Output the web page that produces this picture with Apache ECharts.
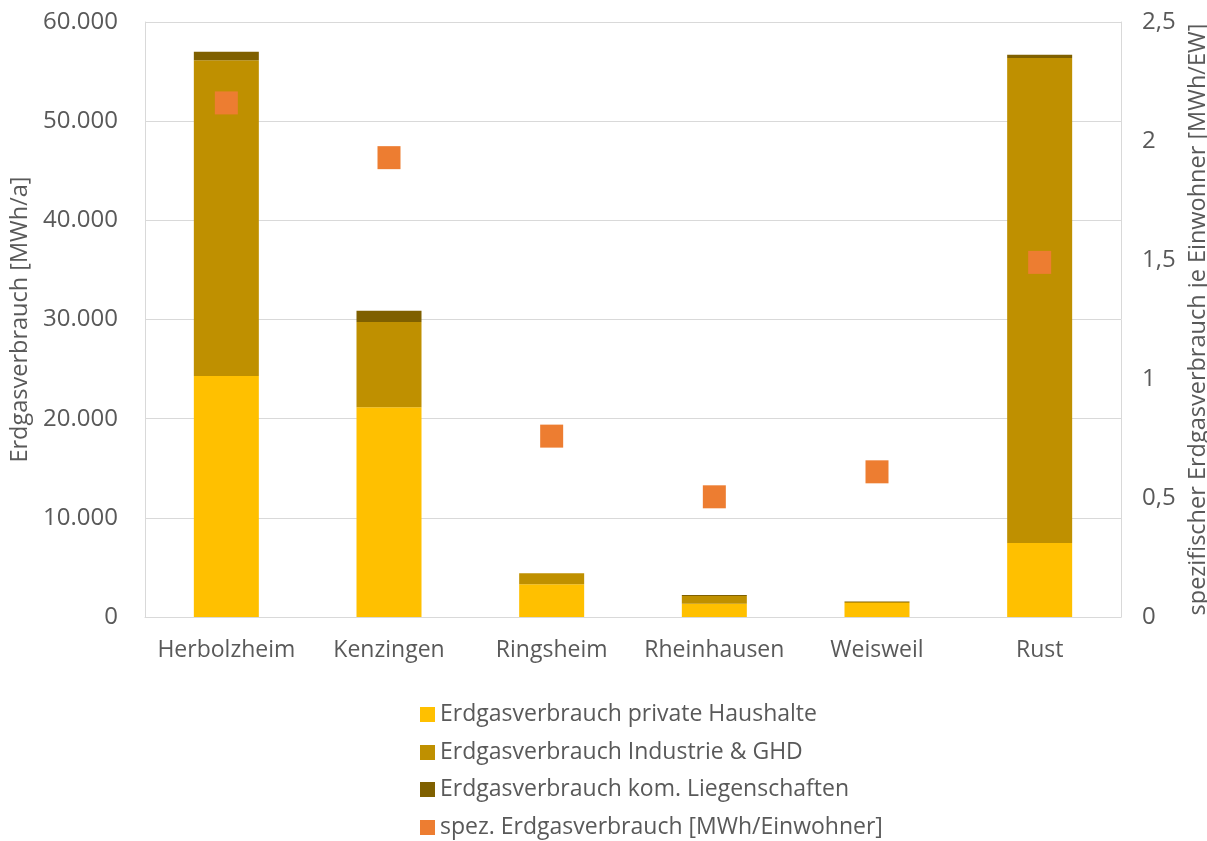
<!DOCTYPE html>
<html><head><meta charset="utf-8">
<script src="https://cdn.jsdelivr.net/npm/echarts@6/dist/echarts.min.js"></script>
<style>html,body{margin:0;padding:0;background:#fff}#c{width:1207px;height:841px}</style>
</head><body><div id="c"></div>
<script>
const categories = ['Herbolzheim','Kenzingen','Ringsheim','Rheinhausen','Weisweil','Rust'];
const privateHaushalte = [24300, 21150, 3300, 1340, 1410, 7460];
const industrieGHD = [31850, 8600, 1100, 780, 100, 48900];
const komLiegenschaften = [850, 1130, 20, 100, 50, 340];
const spezVerbrauch = [2.16, 1.93, 0.76, 0.505, 0.61, 1.49];
const leftTicks = ['0','10.000','20.000','30.000','40.000','50.000','60.000'];
const rightTicks = {0:'0',0.5:'0,5',1:'1',1.5:'1,5',2:'2',2.5:'2,5'};
const seriesNames = ['Erdgasverbrauch private Haushalte','Erdgasverbrauch Industrie & GHD','Erdgasverbrauch kom. Liegenschaften','spez. Erdgasverbrauch [MWh/Einwohner]'];

const font = '"Open Sans", "Noto Sans", sans-serif';
const grey = '#595959';
const legendTops = [703, 741, 778, 816];
const chart = echarts.init(document.getElementById('c'));
chart.setOption({
  animation: false,
  textStyle: {fontFamily: font},
  grid: {left: 145, right: 86, top: 22, bottom: 224, outerBoundsMode: 'none', containLabel: false},
  xAxis: {
    type: 'category', data: categories,
    axisLine: {lineStyle: {color: '#d9d9d9', width: 1}},
    axisTick: {show: false},
    axisLabel: {color: grey, fontSize: 23, margin: 22, fontFamily: font, interval: 0}
  },
  yAxis: [{
    type: 'value', min: 0, max: 60000, interval: 10000,
    name: 'Erdgasverbrauch [MWh/a]', nameLocation: 'middle', nameGap: 104, nameRotate: 90,
    nameTextStyle: {color: grey, fontSize: 23.5, fontFamily: font},
    axisLine: {show: true, lineStyle: {color: '#d9d9d9'}},
    axisTick: {show: false},
    splitLine: {lineStyle: {color: '#d9d9d9', width: 1}},
    axisLabel: {color: grey, fontSize: 24, margin: 27, fontFamily: font,
      formatter: v => leftTicks[Math.round(v/10000)]}
  }, {
    type: 'value', min: 0, max: 2.5, interval: 0.5,
    name: 'spezifischer Erdgasverbrauch je Einwohner [MWh/EW]', nameLocation: 'middle', nameGap: 53, nameRotate: 90,
    nameTextStyle: {color: grey, fontSize: 23.5, fontFamily: font},
    axisLine: {show: true, lineStyle: {color: '#d9d9d9'}},
    axisTick: {show: false},
    splitLine: {show: false},
    axisLabel: {color: grey, fontSize: 24, margin: 21, fontFamily: font,
      formatter: v => rightTicks[Math.round(v*10)/10]}
  }],
  legend: seriesNames.map((n, i) => ({
    orient: 'vertical', left: 420, top: legendTops[i], padding: 0,
    itemWidth: 15, itemHeight: 15, itemGap: 6,
    textStyle: {color: grey, fontSize: 23, fontFamily: font},
    data: [{name: n, icon: 'rect'}]
  })),
  series: [
    {name: seriesNames[0], type: 'bar', stack: 's', data: privateHaushalte,
     barWidth: 65, itemStyle: {color: '#FFC000'}},
    {name: seriesNames[1], type: 'bar', stack: 's', data: industrieGHD,
     itemStyle: {color: '#BF9000'}},
    {name: seriesNames[2], type: 'bar', stack: 's', data: komLiegenschaften,
     itemStyle: {color: '#7F6000'}},
    {name: seriesNames[3], type: 'scatter', yAxisIndex: 1, data: spezVerbrauch,
     symbol: 'rect', symbolSize: 23, itemStyle: {color: '#ED7D31', opacity: 1}, z: 5}
  ]
});
</script></body></html>
